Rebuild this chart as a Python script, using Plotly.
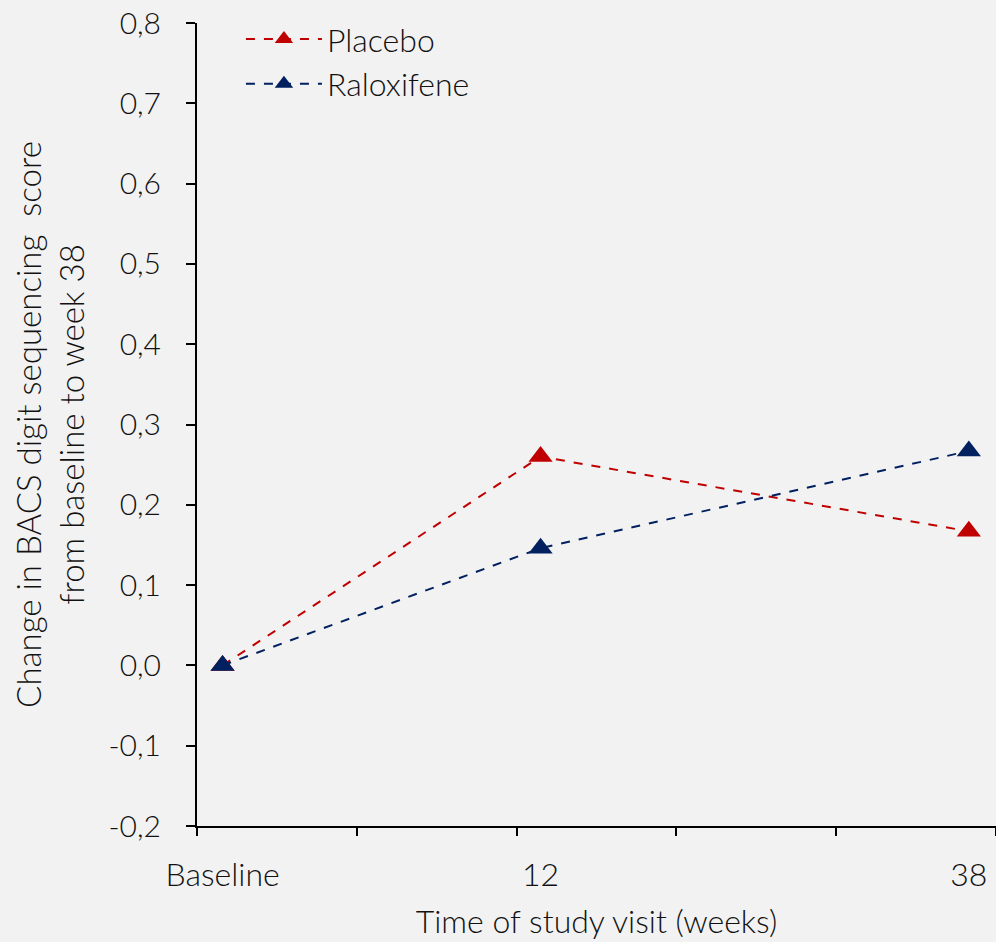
import plotly.graph_objects as go

visit_labels = ["Baseline", "12", "38"]
visit_positions = [0.16, 2.15, 4.83]
placebo = [0.0, 0.26, 0.167]
raloxifene = [0.0, 0.146, 0.267]
y_tick_values = [-0.2, -0.1, 0.0, 0.1, 0.2, 0.3, 0.4, 0.5, 0.6, 0.7, 0.8]
y_tick_labels = ["-0,2", "-0,1", "0,0", "0,1", "0,2", "0,3", "0,4", "0,5", "0,6", "0,7", "0,8"]

FONT = "Lato"
def fnt(size):
    return dict(size=size, family=FONT, weight=300, color="#111111")

fig = go.Figure()
fig.add_trace(go.Scatter(
    x=visit_positions, y=placebo, name="Placebo", mode="lines+markers",
    line=dict(color="#C00000", width=2, dash="dash"),
    marker=dict(symbol="triangle-up", size=21, color="#C00000"),
))
fig.add_trace(go.Scatter(
    x=visit_positions, y=raloxifene, name="Raloxifene", mode="lines+markers",
    line=dict(color="#002060", width=2, dash="dash"),
    marker=dict(symbol="triangle-up", size=21, color="#002060"),
))
# invisible trace to activate the secondary x axis used for tick marks
fig.add_trace(go.Scatter(x=[0, 5], y=[None, None], xaxis="x2", showlegend=False,
                         hoverinfo="skip"))

fig.update_layout(
    width=996, height=942,
    paper_bgcolor="#f2f2f2", plot_bgcolor="#f2f2f2",
    margin=dict(l=197, r=0, t=23, b=116),
    font=fnt(30),
    showlegend=True,
    legend=dict(x=0.055, y=1.014, xanchor="left", yanchor="top",
                bgcolor="rgba(0,0,0,0)", font=fnt(32),
                itemwidth=76, tracegroupgap=0),
    xaxis=dict(range=[0, 5], tickmode="array", tickvals=visit_positions,
               ticktext=visit_labels, ticks="outside", ticklen=20,
               tickcolor="rgba(0,0,0,0)", showgrid=False, zeroline=False,
               showline=True, linecolor="#000000", linewidth=2,
               tickfont=fnt(32),
               title=dict(text="Time of study visit (weeks)", font=fnt(32), standoff=18)),
    xaxis2=dict(range=[0, 5], overlaying="x", side="bottom", dtick=1, tick0=0,
                ticks="outside", ticklen=9, tickwidth=2, tickcolor="#000000",
                showticklabels=False, showgrid=False, zeroline=False, showline=False),
    yaxis=dict(range=[-0.2, 0.8], tickmode="array", tickvals=y_tick_values,
               ticktext=y_tick_labels,
               ticks="outside", ticklen=9, tickwidth=2, tickcolor="#000000",
               ticklabelstandoff=19,
               showgrid=False, zeroline=False, showline=True,
               linecolor="#000000", linewidth=2,
               tickfont=fnt(30),
               title=dict(text="Change in BACS digit sequencing  score<br>from baseline to week 38",
                          font=fnt(33), standoff=14)),
)

fig.write_html("out.html", config={"displayModeBar": False},
               post_script="document.body.style.margin='0';")
